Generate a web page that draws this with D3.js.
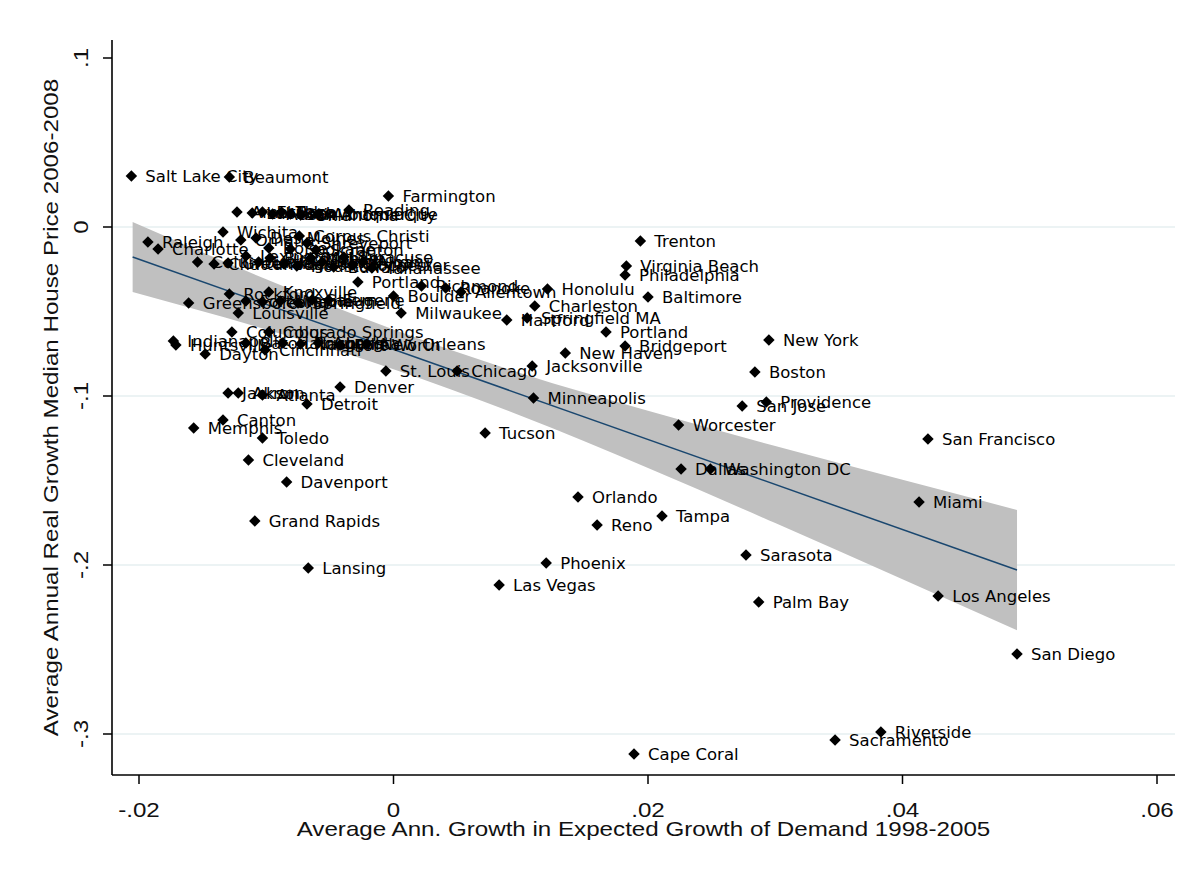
<!DOCTYPE html>
<html><head><meta charset="utf-8">
<script src="https://cdn.jsdelivr.net/npm/d3@7"></script>
<style>
html,body{margin:0;padding:0;background:#fff;}
svg{display:block;}
</style></head><body>
<svg id="chart" width="1199" height="874"></svg>
<script>
// ---------------- data ----------------
const cityNames = [
 "Salt Lake City","Beaumont","Farmington","Reading","Amarillo","Lubbock","El Paso","Austin","Tulsa","San Antonio",
 "Oklahoma City","Albuquerque","Wichita","Corpus Christi","Raleigh","Charlotte","Shreveport","Spokane","Omaha","Des Moines",
 "Syracuse","Tallahassee","Columbia","Chattanooga","Greenville","Lexington","Little Rock","Birmingham","Kansas City","Houston",
 "Mobile","Pittsburgh","Buffalo","Rochester","Albany","Scranton","Boise","Portland","Richmond","Roanoke",
 "Boulder","Allentown","Milwaukee","Eugene","Knoxville","Rockford","Louisville","Greensboro","Fort Wayne","Peoria",
 "Lincoln","Springfield","Salem","Indianapolis","Huntsville","Dayton","Columbus","Colorado Springs","Cincinnati","Baton Rouge",
 "Harrisburg","Nashville","Augusta","Fort Worth","New Orleans","Denver","St. Louis","Chicago","Jacksonville","New Haven",
 "Minneapolis","Tucson","Jackson","Akron","Atlanta","Detroit","Toledo","Canton","Memphis","Cleveland",
 "Davenport","Grand Rapids","Lansing","Trenton","Virginia Beach","Philadelphia","Honolulu","Baltimore","Charleston","Hartford",
 "Springfield MA","Portland","Bridgeport","New York","Boston","Providence","San Jose","Worcester","San Francisco","Dallas",
 "Washington DC","Miami","Orlando","Reno","Tampa","Sarasota","Phoenix","Las Vegas","Palm Bay","Los Angeles",
 "San Diego","Riverside","Sacramento","Cape Coral"
];
const demandGrowth = [
 -0.0206,-0.0129,-0.0004,-0.0035,-0.0123,-0.0111,-0.0103,-0.0095,-0.0088,-0.0081,
 -0.0073,-0.0059,-0.0134,-0.0074,-0.0193,-0.0185,-0.0068,-0.0081,-0.0120,-0.0108,
 -0.0039,-0.0017,-0.0154,-0.0141,-0.0130,-0.0116,-0.0106,-0.0097,-0.0086,-0.0076,
 -0.0065,-0.0056,-0.0047,-0.0032,-0.0024,-0.0061,-0.0098,-0.0028,0.0022,0.0041,
 0.0000,0.0053,0.0006,-0.0051,-0.0098,-0.0129,-0.0122,-0.0161,-0.0116,-0.0103,
 -0.0089,-0.0075,-0.0064,-0.0173,-0.0171,-0.0148,-0.0127,-0.0098,-0.0101,-0.0116,
 -0.0087,-0.0073,-0.0059,-0.0042,-0.0021,-0.0042,-0.0006,0.0050,0.0109,0.0135,
 0.0110,0.0072,-0.0130,-0.0122,-0.0103,-0.0068,-0.0103,-0.0134,-0.0157,-0.0114,
 -0.0084,-0.0109,-0.0067,0.0194,0.0183,0.0182,0.0121,0.0200,0.0111,0.0089,
 0.0105,0.0167,0.0182,0.0295,0.0284,0.0293,0.0274,0.0224,0.0420,0.0226,
 0.0249,0.0413,0.0145,0.0160,0.0211,0.0277,0.0120,0.0083,0.0287,0.0428,
 0.0490,0.0383,0.0347,0.0189
];
const priceGrowth = [
 0.0302,0.0296,0.0183,0.0101,0.0089,0.0083,0.0089,0.0077,0.0089,0.0077,
 0.0071,0.0077,-0.0030,-0.0053,-0.0089,-0.0130,-0.0095,-0.0130,-0.0077,-0.0065,
 -0.0178,-0.0243,-0.0207,-0.0219,-0.0213,-0.0172,-0.0207,-0.0183,-0.0219,-0.0231,
 -0.0183,-0.0207,-0.0237,-0.0225,-0.0207,-0.0136,-0.0124,-0.0325,-0.0349,-0.0361,
 -0.0408,-0.0385,-0.0509,-0.0432,-0.0385,-0.0396,-0.0509,-0.0450,-0.0438,-0.0444,
 -0.0438,-0.0450,-0.0432,-0.0675,-0.0698,-0.0751,-0.0621,-0.0621,-0.0728,-0.0686,
 -0.0686,-0.0692,-0.0686,-0.0698,-0.0692,-0.0947,-0.0852,-0.0852,-0.0822,-0.0746,
 -0.1012,-0.1219,-0.0982,-0.0982,-0.0994,-0.1047,-0.1249,-0.1142,-0.1189,-0.1379,
 -0.1509,-0.1740,-0.2018,-0.0083,-0.0231,-0.0284,-0.0367,-0.0414,-0.0467,-0.0550,
 -0.0538,-0.0621,-0.0704,-0.0669,-0.0858,-0.1036,-0.1059,-0.1172,-0.1254,-0.1432,
 -0.1432,-0.1627,-0.1598,-0.1763,-0.1710,-0.1941,-0.1988,-0.2118,-0.2219,-0.2183,
 -0.2527,-0.2988,-0.3036,-0.3118
];
// linear fit and its 95% confidence band
const fitX = [-0.0205, 0.049];
const fitY = [-0.0178, -0.2030];
const ciX    = [-0.0205, -0.01, 0, 0.01, 0.02, 0.03, 0.04, 0.049];
const ciHigh = [0.0029, -0.0309, -0.0607, -0.0865, -0.1088, -0.1296, -0.1496, -0.1674];
const ciLow  = [-0.0385, -0.0607, -0.0841, -0.1117, -0.1426, -0.1752, -0.2084, -0.2386];

const xTickValues = [-0.02, 0, 0.02, 0.04, 0.06];
const xTickLabels = ["-.02", "0", ".02", ".04", ".06"];
const yTickValues = [0.1, 0, -0.1, -0.2, -0.3];
const yTickLabels = [".1", "0", "-.1", "-.2", "-.3"];
const gridValues = [0, -0.1, -0.2, -0.3];
const xTitle = "Average Ann. Growth in Expected Growth of Demand 1998-2005";
const yTitle = "Average Annual Real Growth Median House Price 2006-2008";

// ---------------- layout ----------------
const W = 1199, H = 874;
const plot = {left: 112, right: 1175, top: 40, bottom: 775};
const svg = d3.select("#chart");
const x = d3.scaleLinear().domain([-0.02, 0.06]).range([139, 1157]);
const y = d3.scaleLinear().domain([0.1, -0.3]).range([58, 734]);
const axisFont = "'Liberation Sans', Arial, sans-serif";
const labelFont = "'DejaVu Sans', sans-serif";

function stretch(sel, f) {
  sel.each(function () {
    const L = this.getComputedTextLength();
    this.setAttribute("textLength", (L * f).toFixed(1));
    this.setAttribute("lengthAdjust", "spacingAndGlyphs");
  });
}

svg.append("rect").attr("x", 0).attr("y", 0).attr("width", W).attr("height", H).attr("fill", "#fff");

// grid lines
svg.append("g").selectAll("line").data(gridValues).join("line")
  .attr("x1", plot.left).attr("x2", plot.right)
  .attr("y1", d => y(d)).attr("y2", d => y(d))
  .attr("stroke", "#e6eff1").attr("stroke-width", 1.5);

// confidence band
const band = ciX.map((v, i) => ({x: v, lo: ciLow[i], hi: ciHigh[i]}));
svg.append("path").datum(band)
  .attr("d", d3.area().x(d => x(d.x)).y0(d => y(d.lo)).y1(d => y(d.hi)).curve(d3.curveMonotoneX))
  .attr("fill", "#c0c0c0");

// fit line
const fit = fitX.map((v, i) => ({x: v, y: fitY[i]}));
svg.append("path").datum(fit)
  .attr("d", d3.line().x(d => x(d.x)).y(d => y(d.y)))
  .attr("fill", "none").attr("stroke", "#1a476f").attr("stroke-width", 1.5);

// points
const pts = cityNames.map((n, i) => ({name: n, x: demandGrowth[i], y: priceGrowth[i]}));
const diamond = d3.symbol().type(d3.symbolSquare).size(66);
svg.append("g").selectAll("path").data(pts).join("path")
  .attr("d", diamond)
  .attr("transform", d => `translate(${x(d.x)},${y(d.y)}) rotate(45)`)
  .attr("fill", "#000");

svg.append("g").selectAll("text").data(pts).join("text")
  .attr("x", d => x(d.x) + 14).attr("y", d => y(d.y))
  .attr("dy", "0.36em")
  .attr("font-family", labelFont).attr("font-size", 16.5)
  .attr("fill", "#000")
  .text(d => d.name);

// axes lines
svg.append("line").attr("x1", plot.left).attr("x2", plot.left).attr("y1", plot.top).attr("y2", plot.bottom)
  .attr("stroke", "#000").attr("stroke-width", 1.6);
svg.append("line").attr("x1", plot.left).attr("x2", plot.right).attr("y1", plot.bottom).attr("y2", plot.bottom)
  .attr("stroke", "#000").attr("stroke-width", 1.6);

// y ticks
svg.append("g").selectAll("line").data(yTickValues).join("line")
  .attr("x1", plot.left - 9).attr("x2", plot.left)
  .attr("y1", d => y(d)).attr("y2", d => y(d))
  .attr("stroke", "#000").attr("stroke-width", 1.5);
const ytl = svg.append("g").selectAll("text").data(yTickValues).join("text")
  .attr("transform", d => `translate(88,${y(d)}) rotate(-90)`)
  .attr("text-anchor", "middle")
  .attr("font-family", axisFont).attr("font-size", 21).attr("fill", "#111")
  .text((d, i) => yTickLabels[i]);
stretch(ytl, 1.15);

// x ticks
svg.append("g").selectAll("line").data(xTickValues).join("line")
  .attr("x1", d => x(d)).attr("x2", d => x(d))
  .attr("y1", plot.bottom).attr("y2", plot.bottom + 9)
  .attr("stroke", "#000").attr("stroke-width", 1.5);
const xtl = svg.append("g").selectAll("text").data(xTickValues).join("text")
  .attr("x", d => x(d)).attr("y", 817)
  .attr("text-anchor", "middle")
  .attr("font-family", axisFont).attr("font-size", 21).attr("fill", "#111")
  .text((d, i) => xTickLabels[i]);
stretch(xtl, 1.15);

// titles
const xt = svg.append("text")
  .attr("x", (plot.left + plot.right) / 2).attr("y", 836)
  .attr("text-anchor", "middle")
  .attr("font-family", axisFont).attr("font-size", 21).attr("fill", "#111")
  .text(xTitle);
stretch(xt, 1.15);
const yt = svg.append("text")
  .attr("transform", `translate(58,${(plot.top + plot.bottom) / 2}) rotate(-90)`)
  .attr("text-anchor", "middle")
  .attr("font-family", axisFont).attr("font-size", 21).attr("fill", "#111")
  .text(yTitle);
stretch(yt, 1.15);
</script>
</body></html>
